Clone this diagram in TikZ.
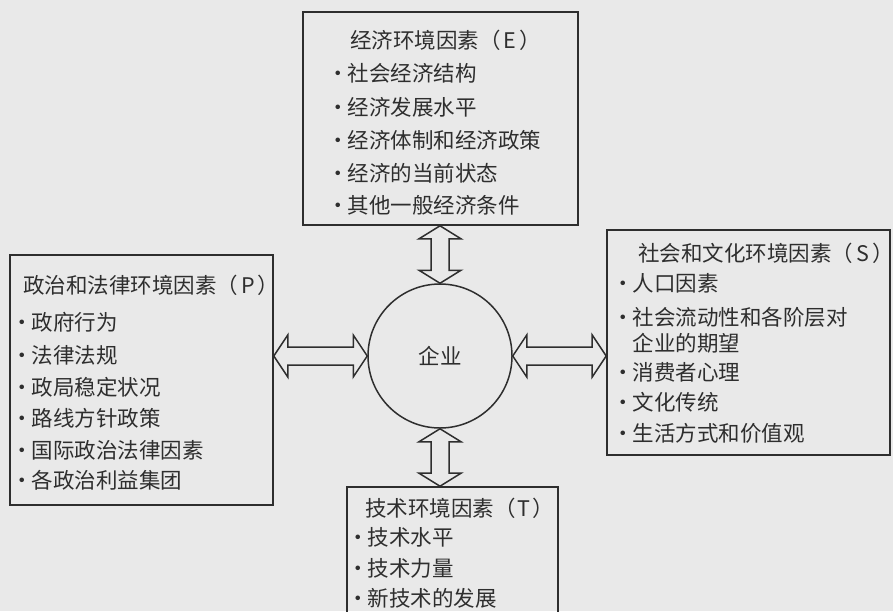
\documentclass[tikz,border=0pt]{standalone}
\usepackage{fontspec}
\newfontfamily\cjk{Noto Sans CJK SC}
\usetikzlibrary{calc}
\definecolor{ink}{HTML}{2E2E2E}
\definecolor{bg}{HTML}{E9E9E9}
\newcommand\bul{\makebox[19pt][c]{·}}
% hollow double arrow, vertical: #1 top tip, #2 bottom tip
\newcommand\vdbl[2]{\draw[hollow] (#1) -- ++(21,13) -- ++(-12,0) -- ($(#2)+(9,-13)$) -- ++(12,0) -- (#2) -- ++(-21,-13) -- ++(12,0) -- ($(#1)+(-9,13)$) -- ++(-12,0) -- cycle;}
% hollow double arrow, horizontal: #1 left tip, #2 right tip
\newcommand\hdbl[2]{\draw[hollow] (#1) -- ++(14,-21) -- ++(0,12) -- ($(#2)+(-14,-9)$) -- ++(0,-12) -- (#2) -- ++(-14,21) -- ++(0,-12) -- ($(#1)+(14,9)$) -- ++(0,12) -- cycle;}
\tikzset{
  box/.style={draw=ink, line width=1.6pt, rectangle, inner sep=0pt},
  txt/.style={anchor=west, inner sep=0pt, text=ink, font=\cjk\fontsize{21.5}{26}\selectfont},
  hollow/.style={draw=ink, line width=1.5pt, line join=miter, fill=bg},
  core/.style={draw=ink, line width=1.5pt, circle, minimum size=144pt, inner sep=0pt, text=ink, font=\cjk\fontsize{21.5}{26}\selectfont}
}
\begin{document}
\begin{tikzpicture}[x=1pt,y=-1pt]
\fill[bg] (0,0) rectangle (893,611);
\useasboundingbox (0,0) rectangle (893,611);
\clip (0,0) rectangle (893,611);

% boxes
\node[box, minimum width=275pt, minimum height=213pt] (E) at (440.5,118.5) {};
\node[box, minimum width=263pt, minimum height=250pt] (P) at (141.5,380) {};
\node[box, minimum width=283pt, minimum height=225pt] (S) at (748.5,342.5) {};
\node[box, minimum width=211pt, minimum height=138pt] (T) at (452.5,556) {};
\node[core] (C) at (440,356) {企业};

% E texts
\node[txt] (e0) at (350,40) {经济环境因素（\kern3pt E\kern3pt）};
\node[txt] (e1) at (328.5,73) {\bul 社会经济结构};
\node[txt] (e2) at (328.5,107) {\bul 经济发展水平};
\node[txt] (e3) at (328.5,140) {\bul 经济体制和经济政策};
\node[txt] (e4) at (328.5,173) {\bul 经济的当前状态};
\node[txt] (e5) at (328.5,205) {\bul 其他一般经济条件};

% P texts
\node[txt] (p0) at (23,285) {政治和法律环境因素（\kern3pt P\kern3pt）};
\node[txt] (p1) at (12.5,322) {\bul 政府行为};
\node[txt] (p2) at (12.5,355) {\bul 法律法规};
\node[txt] (p3) at (12.5,387) {\bul 政局稳定状况};
\node[txt] (p4) at (12.5,418) {\bul 路线方针政策};
\node[txt] (p5) at (12.5,450) {\bul 国际政治法律因素};
\node[txt] (p6) at (12.5,480) {\bul 各政治利益集团};

% S texts
\node[txt] (s0) at (638,253) {社会和文化环境因素（\kern3pt S\kern3pt）};
\node[txt] (s1) at (613.5,283) {\bul 人口因素};
\node[txt] (s2) at (613.5,317) {\bul 社会流动性和各阶层对};
\node[txt] (s2b) at (632.5,343) {企业的期望};
\node[txt] (s3) at (613.5,372) {\bul 消费者心理};
\node[txt] (s4) at (613.5,402) {\bul 文化传统};
\node[txt] (s5) at (613.5,433) {\bul 生活方式和价值观};

% T texts
\node[txt] (t0) at (365,508) {技术环境因素（\kern2pt T\kern2pt）};
\node[txt] (t1) at (348.5,537) {\bul 技术水平};
\node[txt] (t2) at (348.5,568) {\bul 技术力量};
\node[txt] (t3) at (348.5,598) {\bul 新技术的发展};

% arrow tips on the boxes
\coordinate (Etip) at (C.north |- E.south);
\coordinate (Ptip) at (P.east |- C.west);
\coordinate (Stip) at (S.west |- C.east);
\coordinate (Ttip) at (C.south |- T.north);

\vdbl{Etip}{C.north}
\vdbl{C.south}{Ttip}
\hdbl{Ptip}{C.west}
\hdbl{C.east}{Stip}
\end{tikzpicture}
\end{document}
